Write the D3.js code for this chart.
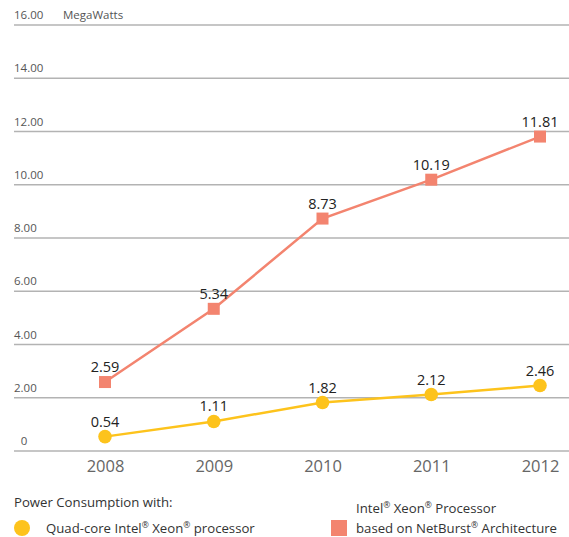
<!DOCTYPE html>
<html><head><meta charset="utf-8">
<script src="https://cdn.jsdelivr.net/npm/d3@7"></script>
<style>body{margin:0;background:#fff}text{font-family:"Open Sans","Noto Sans",sans-serif}</style>
</head><body>
<svg id="c" width="569" height="537"></svg>
<script>
const years = ["2008","2009","2010","2011","2012"];
const quadCore = [0.54, 1.11, 1.82, 2.12, 2.46];
const netBurst = [2.59, 5.34, 8.73, 10.19, 11.81];
const yTicks = [0, 2, 4, 6, 8, 10, 12, 14, 16];
const yTickLabels = ["0","2.00","4.00","6.00","8.00","10.00","12.00","14.00","16.00"];
const unitLabel = "MegaWatts";
const legendTitle = "Power Consumption with:";
const seriesNames = ["Quad-core Intel® Xeon® processor", "Intel® Xeon® Processor", "based on NetBurst® Architecture"];
const colors = {quad:"#FDC31C", net:"#F3846F"};

const svg = d3.select("#c");
const x = d3.scalePoint().domain(years).range([105, 540]);
const y = d3.scaleLinear().domain([0, 16]).range([451, 25]);

// grid
const g = svg.append("g");
yTicks.forEach((t,i)=>{
  g.append("line").attr("x1",14).attr("x2",569).attr("y1",y(t)).attr("y2",y(t))
    .attr("stroke","#b3b3b3").attr("stroke-width",1.3);
  g.append("text").attr("x", t===0 ? 24 : 14).attr("y", y(t)-6).attr("font-size",11.5)
    .attr("fill","#555").attr("text-anchor", t===0 ? "middle":"start").text(yTickLabels[i]);
});
svg.append("text").attr("x",63).attr("y",y(16)-6).attr("font-size",11.5).attr("fill","#555").text(unitLabel);

// x axis labels
const xAxis = d3.axisBottom(x).tickSize(0).tickPadding(0);
const xa = svg.append("g").attr("transform","translate(0,472)").call(xAxis);
xa.select(".domain").remove();
xa.selectAll("text").attr("font-size",16.5).attr("fill","#666").attr("dy",0)
  .style("font-family",'"Open Sans","Noto Sans",sans-serif');

const line = d3.line().x((d,i)=>x(years[i])).y(d=>y(d));
svg.append("path").datum(netBurst).attr("d",line).attr("fill","none").attr("stroke",colors.net).attr("stroke-width",2.5);
svg.append("path").datum(quadCore).attr("d",line).attr("fill","none").attr("stroke",colors.quad).attr("stroke-width",2.5);

svg.selectAll(".sq").data(netBurst).join("rect").attr("x",(d,i)=>x(years[i])-6).attr("y",d=>y(d)-6)
  .attr("width",12).attr("height",12).attr("fill",colors.net);
svg.selectAll(".ci").data(quadCore).join("circle").attr("cx",(d,i)=>x(years[i])).attr("cy",d=>y(d))
  .attr("r",6.8).attr("fill",colors.quad);

svg.selectAll(".ln").data(netBurst).join("text").attr("x",(d,i)=>x(years[i])).attr("y",d=>y(d)-10)
  .attr("text-anchor","middle").attr("font-size",14.5).attr("fill","#222").text(d=>d.toFixed(2));
svg.selectAll(".lq").data(quadCore).join("text").attr("x",(d,i)=>x(years[i])).attr("y",d=>y(d)-10)
  .attr("text-anchor","middle").attr("font-size",14.5).attr("fill","#222").text(d=>d.toFixed(2));

// legend
function legendText(xp, yp, str){
  const t = svg.append("text").attr("x",xp).attr("y",yp).attr("font-size",13.2).attr("fill","#333");
  let raised = false;
  str.split(/(®)/).forEach(part=>{
    if(!part) return;
    if(part==="®"){ t.append("tspan").attr("font-size",8.5).attr("dy",-5).text(part); raised = true; }
    else { const sp = t.append("tspan").text(part); if(raised){ sp.attr("dy",5); raised=false; } }
  });
}
legendText(14, 507, legendTitle);
svg.append("circle").attr("cx",22).attr("cy",528).attr("r",8).attr("fill",colors.quad);
legendText(46, 533, seriesNames[0]);
svg.append("rect").attr("x",331).attr("y",520).attr("width",16).attr("height",16).attr("fill",colors.net);
legendText(356, 513, seriesNames[1]);
legendText(356, 533, seriesNames[2]);
</script>
</body></html>
